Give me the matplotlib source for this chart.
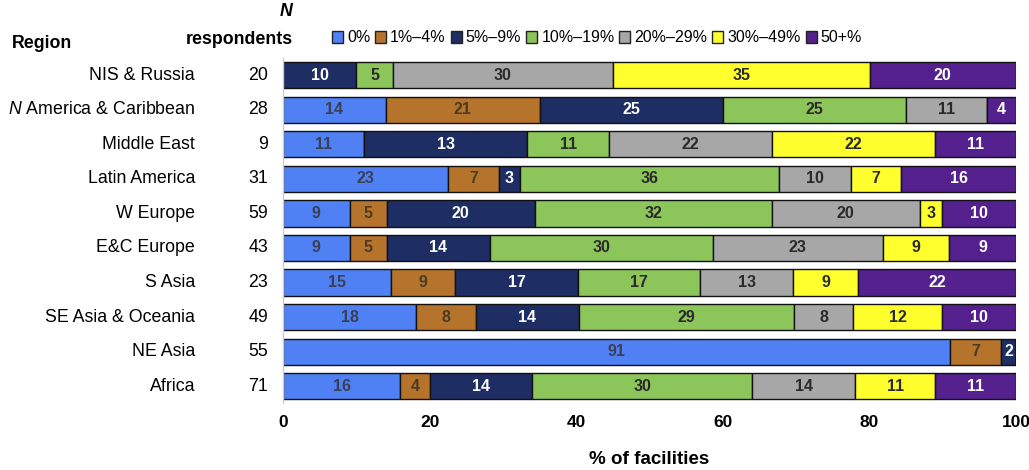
import matplotlib
matplotlib.use("Agg")
import matplotlib.pyplot as plt
from matplotlib.patches import Patch

plt.rcParams['font.family'] = ['Liberation Sans', 'DejaVu Sans']
plt.rcParams['mathtext.fontset'] = 'custom'
plt.rcParams['mathtext.it'] = 'Liberation Sans:italic'
plt.rcParams['mathtext.rm'] = 'Liberation Sans'

regions = ["NIS & Russia", r"$\mathit{N}$ America & Caribbean", "Middle East", "Latin America",
           "W Europe", "E&C Europe", "S Asia", "SE Asia & Oceania", "NE Asia", "Africa"]
n_resp = [20, 28, 9, 31, 59, 43, 23, 49, 55, 71]
categories = ["0%", "1%–4%", "5%–9%", "10%–19%", "20%–29%", "30%–49%", "50+%"]
colors = ["#4f80f4", "#b5732b", "#1e2d63", "#8cc55a", "#a7a7a7", "#ffff2e", "#54208e"]
text_colors = ["#3a3f55", "#4a3b26", "white", "#2a2a2a", "#2a2a2a", "#2a2a2a", "white"]

v_0 =     [0, 14, 11, 23, 9, 9, 15, 18, 91, 16]
v_1_4 =   [0, 21, 0, 7, 5, 5, 9, 8, 7, 4]
v_5_9 =   [10, 25, 22, 3, 20, 14, 17, 14, 2, 14]
v_10_19 = [5, 25, 11, 36, 32, 30, 17, 29, 0, 30]
v_20_29 = [30, 11, 22, 10, 20, 23, 13, 8, 0, 14]
v_30_49 = [35, 0, 22, 7, 3, 9, 9, 12, 0, 11]
v_50 =    [20, 4, 11, 16, 10, 9, 22, 10, 0, 11]
series = [v_0, v_1_4, v_5_9, v_10_19, v_20_29, v_30_49, v_50]
# label printed in the source differs from the drawn width for this cell
label_override = {(2, 2): "13"}

# rows are rounded percentages; scale each row to fill 100 as in the source
row_tot = [sum(s[i] for s in series) for i in range(len(regions))]

fig = plt.figure(figsize=(10.29, 4.70), dpi=100)
ax = fig.add_axes([0.275, 0.1415, 0.7125, 0.7355])

y = list(range(len(regions)))
left = [0.0] * len(regions)
for ci, vals in enumerate(series):
    widths = [v * 100.0 / t for v, t in zip(vals, row_tot)]
    ax.barh(y, widths, left=left, height=0.76, color=colors[ci], edgecolor="#111111",
            linewidth=1.0, label=categories[ci])
    for ri, (v, w) in enumerate(zip(vals, widths)):
        if v > 0:
            lab = label_override.get((ri, ci), str(v))
            ax.text(left[ri] + w / 2, ri, lab, ha="center", va="center",
                    fontsize=11.5, fontweight="bold", color=text_colors[ci])
    left = [l + w for l, w in zip(left, widths)]

ax.set_xlim(0, 100)
ax.set_ylim(9.5, -0.5)
ax.set_yticks([])
ax.set_xticks([0, 20, 40, 60, 80, 100])
ax.tick_params(axis="x", length=0, pad=8, labelsize=12.5)
for t in ax.get_xticklabels():
    t.set_fontweight("bold")
for s in ["top", "right", "bottom"]:
    ax.spines[s].set_visible(False)
ax.spines["left"].set_color("#cccccc")
ax.spines["left"].set_linewidth(1.0)

fig.text(649 / 1029, 1 - 460 / 470, "% of facilities", ha="center", va="center",
         fontsize=13.5, fontweight="bold")

ytr = ax.get_yaxis_transform()
for ri, (r, n) in enumerate(zip(regions, n_resp)):
    ax.text(-0.12, ri, r, transform=ytr, ha="right", va="center", fontsize=12.8)
    ax.text(-0.0205, ri, str(n), transform=ytr, ha="right", va="center", fontsize=12.8)

fig.text(12 / 1029, 1 - 44 / 470, "Region", ha="left", va="center", fontsize=12.8, fontweight="bold")
fig.text(293 / 1029, 1 - 40 / 470, "respondents", ha="right", va="center", fontsize=12.8, fontweight="bold")
fig.text(293 / 1029, 1 - 12 / 470, "N", ha="right", va="center", fontsize=12.8,
         fontweight="bold", fontstyle="italic")

handles = [Patch(facecolor=c, edgecolor="#222222", linewidth=1.0) for c in colors]
fig.legend(handles, categories, loc="center", bbox_to_anchor=(597 / 1029, 1 - 38 / 470),
           ncol=7, frameon=False, fontsize=11.5, handlelength=0.7, handleheight=0.7,
           handletextpad=0.25, columnspacing=0.3, borderaxespad=0)

fig.savefig("out.png", dpi=100)
